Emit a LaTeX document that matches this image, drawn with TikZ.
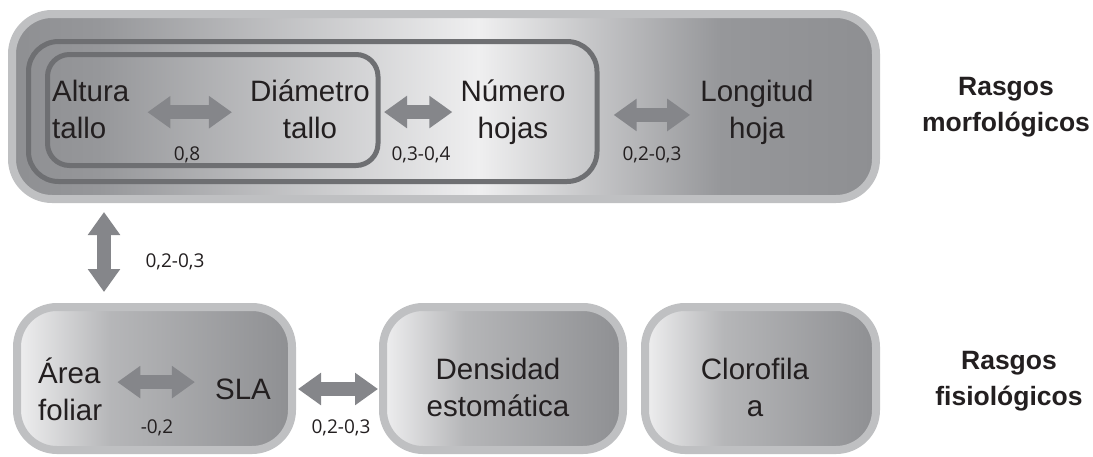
\documentclass[tikz,border=0pt]{standalone}
\usepackage{fontspec}
\setmainfont{Liberation Sans}
\newfontfamily\coeffont{Open Sans}
\usetikzlibrary{arrows.meta,positioning,calc}

\definecolor{rimgray}{HTML}{BFC0C2}
\definecolor{framegray}{HTML}{6E6F72}
\definecolor{arrowgray}{HTML}{85868A}
\definecolor{inkgray}{HTML}{231F20}
\definecolor{shadedark}{HTML}{8E8F92}
\definecolor{shademid}{HTML}{96979A}
\definecolor{shadelight}{HTML}{EFEFF0}

% shadings of the panels (path is mapped on 25bp..75bp)
\pgfdeclarehorizontalshading{morfshade}{100bp}{color(0bp)=(shadedark); color(25bp)=(shadedark);
  color(30bp)=(shademid); color(52bp)=(shadelight); color(66bp)=(shademid); color(75bp)=(shadedark); color(100bp)=(shadedark)}
\pgfdeclarehorizontalshading{fisioshade}{100bp}{color(0bp)=(shadelight); color(25bp)=(shadelight);
  color(42bp)=(shademid!70!white); color(75bp)=(shadedark); color(100bp)=(shadedark)}

\begin{document}
\begin{tikzpicture}[x=1pt, y=-1pt,
    trait/.style={font=\fontsize{29.5}{36.5}\selectfont, text=inkgray, align=center, inner sep=0pt},
    group/.style={font=\bfseries\fontsize{26.5}{36}\selectfont, text=inkgray, align=center, inner sep=0pt},
    coef/.style={font=\coeffont\fontsize{19}{24}\selectfont, text=inkgray, inner sep=0pt},
    panel/.style={draw=rimgray, line width=8pt, rounded corners=40pt, shade, inner sep=0pt},
    frame/.style={draw=framegray, line width=5pt},
    link/.style={draw=arrowgray, line width=14pt, {Triangle[length=23pt,width=31pt]}-{Triangle[length=23pt,width=31pt]}}]

    \useasboundingbox (0,0) rectangle (1093,456);

    % Panels
    \node[panel, shading=morfshade, minimum width=864pt, minimum height=185pt] (morfpanel) at (444,106.5) {};
    \node[panel, shading=fisioshade, minimum width=275pt, minimum height=143pt] (leafpanel) at (154.5,378.5) {};
    \node[panel, shading=fisioshade, minimum width=240pt, minimum height=143pt] (stomapanel) at (503,378.5) {};
    \node[panel, shading=fisioshade, minimum width=231pt, minimum height=143pt] (chloropanel) at (760.5,378.5) {};

    % Frames of the morphological group
    \draw[frame, rounded corners=30pt] (28.5,41.5) rectangle (597,181.5);
    \draw[frame, rounded corners=22pt] (47.5,54.5) rectangle (378,165.5);

    % Traits (base = baseline of the last line)
    \node[trait, align=left, anchor=base west] (altura) at (52,138) {Altura\\tallo};
    \node[trait, anchor=base] (diametro) at (310,138) {Diámetro\\tallo};
    \node[trait, anchor=base] (numero) at (513,138) {Número\\hojas};
    \node[trait, anchor=base] (longitud) at (757,138) {Longitud\\hoja};
    \node[trait, align=left, anchor=base west] (area) at (38,420) {Área\\foliar};
    \node[trait, anchor=base] (sla) at (243,399) {SLA};
    \node[trait, anchor=base] (densidad) at (498,416) {Densidad\\estomática};
    \node[trait, anchor=base] (clorofila) at (755,416) {Clorofila\\a};

    % Groups
    \node[group, anchor=base] (morfo) at (1006,131) {Rasgos\\morfológicos};
    \node[group, anchor=base] (fisio) at (1009,405) {Rasgos\\fisiológicos};

    % Correlations
    \draw[link, shorten <=18pt, shorten >=18pt] ([yshift=-3pt]altura.east) -- ([yshift=-3pt]altura.east -| diametro.west);
    \draw[link, shorten <=14pt, shorten >=8pt] ([yshift=-3pt]diametro.east) -- ([yshift=-3pt]diametro.east -| numero.west);
    \draw[link, shorten <=48pt, shorten >=10pt] ([yshift=-3pt]numero.east) -- ([yshift=-3pt]numero.east -| longitud.west);
    \draw[link, shorten <=9pt, shorten >=11pt] ([xshift=96pt]morfpanel.south west) -- ([xshift=96pt]morfpanel.south west |- leafpanel.north);
    \draw[link, shorten <=15pt, shorten >=20pt] ([yshift=7pt]area.east) -- ([yshift=7pt]area.east -| sla.west);
    \draw[link, shorten <=2pt, shorten >=1pt] ([yshift=-10.5pt]leafpanel.east) -- ([yshift=-10.5pt]stomapanel.west);

    \node[coef] (c1) at (187,155) {0,8};
    \node[coef] (c2) at (421,155) {0,3-0,4};
    \node[coef] (c3) at (652,155) {0,2-0,3};
    \node[coef] (c4) at (175,262) {0,2-0,3};
    \node[coef] (c5) at (157,428) {-0,2};
    \node[coef] (c6) at (341,428) {0,2-0,3};

\end{tikzpicture}
\end{document}
